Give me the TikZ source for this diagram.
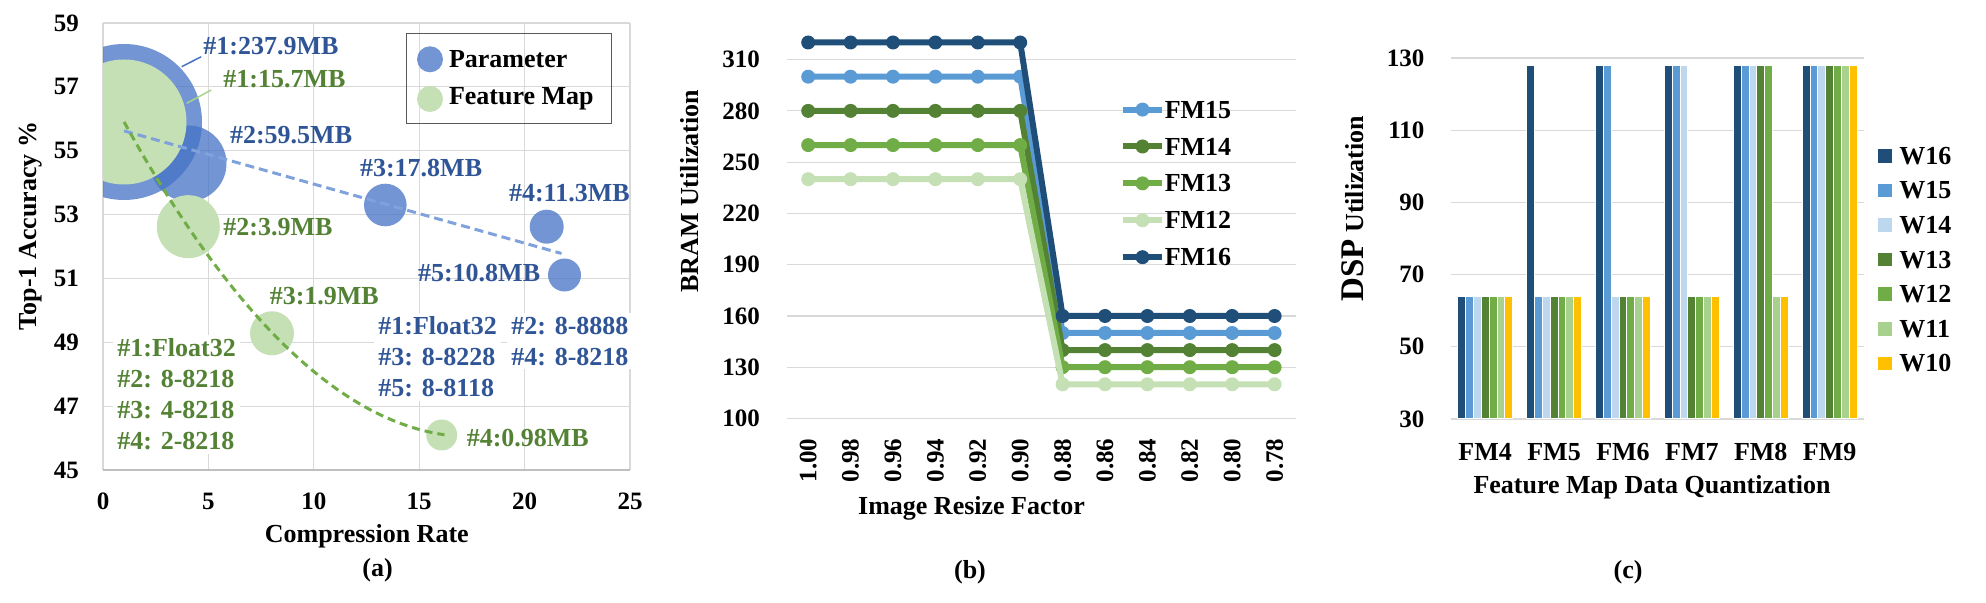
\documentclass[tikz,border=0pt]{standalone}
\usepackage{fontspec}
\setmainfont{Liberation Serif}

\definecolor{gridgray}{HTML}{D9D9D9}
\definecolor{axgray}{HTML}{BFBFBF}
\definecolor{parblue}{HTML}{4472C4}
\definecolor{fmgreen}{HTML}{C5E0B4}
\definecolor{labblue}{HTML}{2F5597}
\definecolor{labgreen}{HTML}{548235}
\definecolor{trendblue}{HTML}{7FA2DC}
\definecolor{trendgreen}{HTML}{70AD47}
\definecolor{leadgreen}{HTML}{A9D18E}
\definecolor{fm16}{HTML}{1F4E79}
\definecolor{fm15}{HTML}{5B9BD5}
\definecolor{fm14}{HTML}{548235}
\definecolor{fm13}{HTML}{70AD47}
\definecolor{fm12}{HTML}{C5E0B4}
\definecolor{w16}{HTML}{1F4E79}
\definecolor{w15}{HTML}{5B9BD5}
\definecolor{w14}{HTML}{BDD7EE}
\definecolor{w13}{HTML}{548235}
\definecolor{w12}{HTML}{70AD47}
\definecolor{w11}{HTML}{A9D18E}
\definecolor{w10}{HTML}{FFC000}

\tikzset{every picture/.style={line width=0.75pt}}
\tikzset{
  gridln/.style={draw=gridgray, line width=0.6pt},
  ticklbl/.style={font=\fontsize{12.5}{15}\selectfont\bfseries, inner sep=0.75pt},
  axtitle/.style={font=\fontsize{13}{15.6}\selectfont\bfseries, inner sep=0.75pt},
  ptlbl/.style={font=\fontsize{13}{15.6}\selectfont\bfseries, inner sep=0.75pt, anchor=west},
  blklbl/.style={font=\fontsize{13}{15.5}\selectfont\bfseries, inner sep=2pt, fill=white, align=left},
  bubP/.style={fill=parblue, fill opacity=0.75},
  bubF/.style={fill=fmgreen},
  trendP/.style={draw=trendblue, line width=1.5pt, dash pattern=on 4.5pt off 2.5pt},
  trendF/.style={draw=trendgreen, line width=1.5pt, dash pattern=on 4pt off 2.5pt},
  fmline/.style={line width=3pt, line join=round},
  barw/.style={draw=white, line width=0.5pt},
}

\begin{document}
\begin{tikzpicture}[x=0.5pt,y=0.5pt,yscale=-1,xscale=1]
\useasboundingbox (0,0) rectangle (1986,603);

%% ---------------- (a) ----------------
% Grid
\foreach \v in {0,5,...,25} \draw[gridln] ({103+21.08*\v},23) -- ({103+21.08*\v},470);
\foreach \v in {47,49,...,59} \draw[gridln] (103,{470-(\v-45)*31.93}) -- (630,{470-(\v-45)*31.93});
\draw[draw=axgray, line width=0.6pt] (103,470) -- (630,470);
% Tick labels
\foreach \v in {45,47,...,59} \node[ticklbl, anchor=east] (ay\v) at (81,{470-(\v-45)*31.93}) {\v};
\foreach \v in {0,5,...,25} \node[ticklbl] (ax\v) at ({103+21.08*\v},501.7) {\v};
% Shape: Circle (bubbles)
\begin{scope}
\clip (103,23) rectangle (630,470);
\fill[bubP] (124,122) circle (78);
\fill[bubP] (188.5,163.5) circle (38);
\fill[bubP] (385.3,205) circle (21.3);
\fill[bubP] (546.7,226.7) circle (17);
\fill[bubP] (564.5,275) circle (16.5);
\fill[bubF] (124,122) circle (62.5);
\fill[bubF] (188.3,226.7) circle (31.5);
\fill[bubF] (272,333.3) circle (22);
\fill[bubF] (441.7,435) circle (15.5);
\end{scope}
% Trend lines
\draw[trendP] (124.1,130.9) -- (561.5,253.5);
\draw[trendF] plot[domain=1:16.2, samples=60] ({103+21.08*\x},{470-31.93*(57.13-1.2658*\x+0.03611*\x*\x-45)});
% Text Node
\node[ptlbl, text=labblue] (lblB1) at (201.2,45.7) {\#1:237.9MB};
\node[ptlbl, text=labgreen] (lblG1) at (221.2,79) {\#1:15.7MB};
\node[ptlbl, text=labblue] (lblB2) at (227.8,135) {\#2:59.5MB};
\node[ptlbl, text=labgreen] (lblG2) at (221.2,226.7) {\#2:3.9MB};
\node[ptlbl, text=labblue] (lblB3) at (357.8,168.3) {\#3:17.8MB};
\node[ptlbl, text=labblue] (lblB4) at (506.8,193.3) {\#4:11.3MB};
\node[ptlbl, text=labblue] (lblB5) at (415.8,272.7) {\#5:10.8MB};
\node[ptlbl, text=labgreen] (lblG3) at (267.5,296) {\#3:1.9MB};
\node[ptlbl, text=labgreen] (lblG4) at (464.5,438.3) {\#4:0.98MB};
% Leader lines
\coordinate (b1edge) at (181.7,66.7);
\coordinate (g1edge) at (186.7,103.3);
\draw[draw=parblue, line width=0.75pt] (b1edge) -- (lblB1.south west);
\draw[draw=leadgreen, line width=0.75pt] (g1edge) -- ([xshift=-5pt]lblG1.south west);
% Text blocks
\node[blklbl, text=labgreen, anchor=west] (gblk) at (112.7,394.5) {\#1:Float32\\\#2: 8-8218\\\#3: 4-8218\\\#4: 2-8218};
\node[blklbl, text=labblue, anchor=north west] (bblkA) at (373.7,312) {\#1:Float32\\\#3: 8-8228\\\#5: 8-8118};
\node[blklbl, text=labblue, anchor=north west] (bblkB) at (506.7,312) {\#2: 8-8888\\\#4: 8-8218};
% Legend
\draw[draw=black!65, line width=0.5pt] (406,34) rectangle (611,123.3);
\fill[bubP] (430,59.3) circle (13);
\fill[bubF] (430,99) circle (13);
\node[ptlbl] (legP) at (446.8,59.3) {Parameter};
\node[ptlbl] (legF) at (446.8,99) {Feature Map};
% Axis titles
\node[axtitle, rotate=90] (aytitle) at (31,226) {Top-1 Accuracy \%};
\node[axtitle] (axtitle) at (366.8,536.5) {Compression Rate};
\node[axtitle] (acap) at (377.5,570) {(a)};

%% ---------------- (b) ----------------
\foreach \v in {100,130,...,310} {
  \draw[gridln] (787,{418.5-(\v-100)*1.709}) -- (1296,{418.5-(\v-100)*1.709});
  \node[ticklbl, anchor=east] (by\v) at (762,{418.5-(\v-100)*1.709}) {\v};
}
\foreach \i/\t in {0/1.00,1/0.98,2/0.96,3/0.94,4/0.92,5/0.90,6/0.88,7/0.86,8/0.84,9/0.82,10/0.80,11/0.78}
  \node[ticklbl, rotate=90, anchor=east] (bx\i) at ({808.2+42.4*\i},436.5) {\t};
% Series
\foreach \col/\hi/\lo in {fm15/76.7/333.0, fm14/110.9/350.1, fm13/145.1/367.2, fm12/179.2/384.3, fm16/42.5/316.0} {
  \draw[fmline, draw=\col] (808.2,\hi) -- (1020.2,\hi) -- (1062.6,\lo) -- (1274.6,\lo);
  \foreach \i in {0,...,5} \fill[fill=\col] ({808.2+42.4*\i},\hi) circle (7);
  \foreach \i in {6,...,11} \fill[fill=\col] ({808.2+42.4*\i},\lo) circle (7);
}
% Legend
\foreach \j/\col/\t in {0/fm15/FM15,1/fm14/FM14,2/fm13/FM13,3/fm12/FM12,4/fm16/FM16} {
  \draw[fmline, draw=\col] (1123,{109.6+36.9*\j}) -- (1162,{109.6+36.9*\j});
  \fill[fill=\col] (1142.5,{109.6+36.9*\j}) circle (7);
  \node[ptlbl] (bl\j) at (1162.5,{109.6+36.9*\j}) {\t};
}
\node[axtitle, rotate=90] (bytitle) at (689.6,191.3) {BRAM Utilization};
\node[axtitle] (bxtitle) at (971.5,508) {Image Resize Factor};
\node[axtitle] (bcap) at (970,572) {(b)};

%% ---------------- (c) ----------------
\foreach \v in {30,50,...,130} {
  \draw[gridln] (1450.7,{419-(\v-30)*3.61}) -- (1864,{419-(\v-30)*3.61});
  \node[ticklbl, anchor=east] (cy\v) at (1426.7,{419-(\v-30)*3.61}) {\v};
}
% Bars
\foreach \g/\nh in {0/0,1/1,2/2,3/3,4/5,5/7} {
  \foreach \k/\col in {0/w16,1/w15,2/w14,3/w13,4/w12,5/w11,6/w10} {
    \pgfmathsetmacro\bx{1457.7+68.9*\g+7.857*\k}
    \pgfmathsetmacro\by{\k<\nh ? 65.2 : 296.3}
    \filldraw[barw, fill=\col] (\bx,419) rectangle ({\bx+7.857},\by);
  }
}
\foreach \g/\t in {0/FM4,1/FM5,2/FM6,3/FM7,4/FM8,5/FM9}
  \node[axtitle] (cx\g) at ({1485.15+68.9*\g},452) {\t};
% Legend
\foreach \j/\col/\t in {0/w16/W16,1/w15/W15,2/w14/W14,3/w13/W13,4/w12/W12,5/w11/W11,6/w10/W10} {
  \fill[fill=\col] (1878,{155.8+34.6*\j-6.75}) rectangle (1891.5,{155.8+34.6*\j+6.75});
  \node[ptlbl] (cl\j) at (1897.2,{155.8+34.6*\j}) {\t};
}
\node[axtitle, rotate=90] (cytitle) at (1352.5,208.7) {{\fontsize{16.5}{18}\selectfont DSP} Utilization};
\node[axtitle] (cxtitle) at (1652,487.7) {Feature Map Data Quantization};
\node[axtitle] (ccap) at (1628,572) {(c)};
\end{tikzpicture}
\end{document}
